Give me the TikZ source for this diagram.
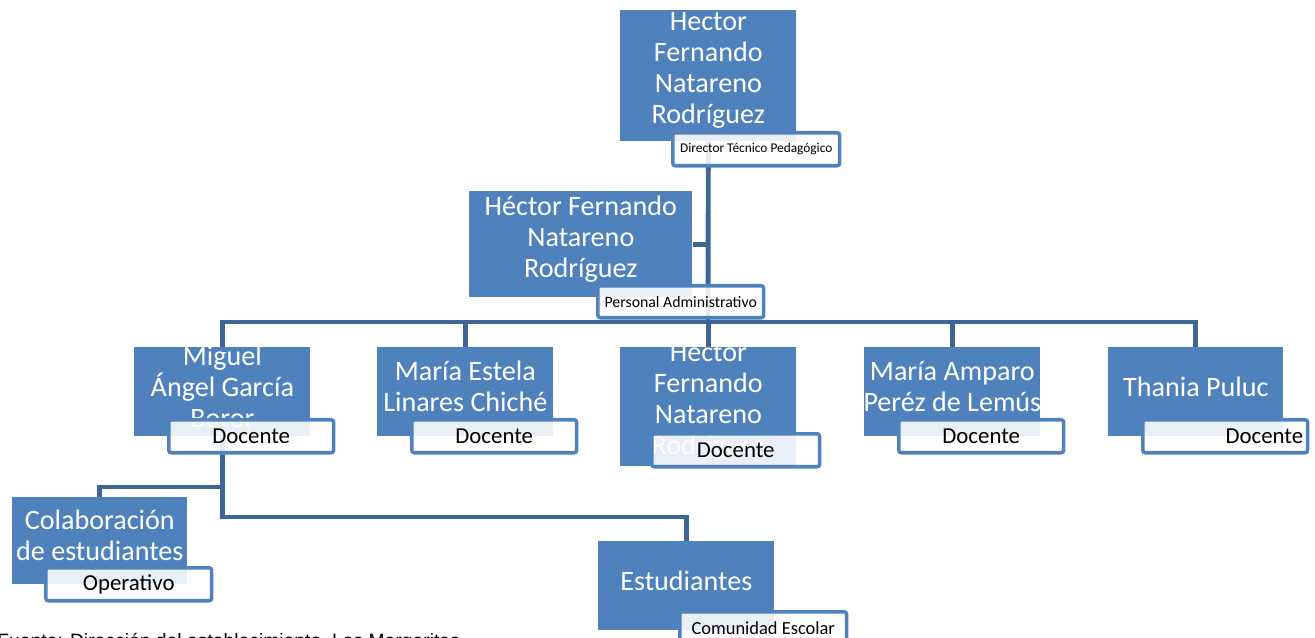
\documentclass[tikz,border=0pt]{standalone}
\usepackage{fontspec}
\setmainfont{Carlito}
\newfontfamily\sourcefont{Liberation Sans}
\usetikzlibrary{calc}

\definecolor{boxblue}{RGB}{79,129,189}
\definecolor{linkblue}{RGB}{62,101,150}

\begin{document}
\begin{tikzpicture}[
    x=0.02cm, y=-0.02cm,
    person/.style={rectangle, fill=boxblue, anchor=north west, inner sep=0pt,
        path picture={\node[nametext] at ([yshift=3pt]path picture bounding box.center) {#1};}},
    nametext/.style={anchor=center, text=white, align=center, font=\fontsize{16}{17.6}\selectfont},
    role/.style={rectangle, draw=boxblue, line width=2pt, rounded corners=1.5pt,
        fill=white, fill opacity=0.88, text opacity=1, anchor=north west,
        inner sep=0pt, minimum height=0.66cm},
    link/.style={draw=linkblue, line width=2.8pt}
]

    \useasboundingbox (0,0) rectangle (1315,638);

    % --- Boxes ---
    \node[person={Hector\\Fernando\\Natareno\\Rodríguez}, minimum width=3.52cm, minimum height=2.62cm] (top) at (620,10) {};
    \node[person={Héctor Fernando\\Natareno\\Rodríguez}, minimum width=4.46cm, minimum height=2.12cm] (admin) at (469,191) {};

    \node[person={Miguel\\Ángel García\\Boror}, minimum width=3.52cm, minimum height=1.78cm] (d1) at (134,347) {};
    \node[person={María Estela\\Linares Chiché}, minimum width=3.52cm, minimum height=1.78cm] (d2) at (377,347) {};
    \node[person={Hector\\Fernando\\Natareno\\Rodríguez}, minimum width=3.52cm, minimum height=2.38cm] (d3) at (620,347) {};
    \node[person={María Amparo\\Peréz de Lemús}, minimum width=3.52cm, minimum height=1.78cm] (d4) at (864,347) {};
    \node[person={Thania Puluc}, minimum width=3.50cm, minimum height=1.78cm] (d5) at (1108,347) {};

    \node[person={Colaboración\\de estudiantes}, minimum width=3.50cm, minimum height=1.74cm] (colab) at (12,497) {};
    \node[person={Estudiantes}, minimum width=3.52cm, minimum height=1.78cm] (est) at (598,541) {};

    % --- Connectors ---
    \coordinate (bus) at (708,322);
    \draw[link] (top.south) -- (bus);
    \draw[link] (admin.east) -- (admin.east -| bus);
    \draw[link] (d1.north) |- (bus) -| (d5.north);
    \foreach \d in {d2,d3,d4}
        \draw[link] (\d.north) -- (\d.north |- bus);

    \draw[link] (d1.south) |- ($(colab.north)+(0,-10)$) -- (colab.north);
    \draw[link] (d1.south) |- ($(est.north)+(0,-24)$) -- (est.north);

    % --- Role labels ---
    \node[role, minimum width=3.34cm, font=\fontsize{7.6}{9}\selectfont] (topRole) at (671,131) {Director Técnico Pedagógico};
    \node[role, minimum width=3.32cm, minimum height=0.64cm, font=\fontsize{9}{11}\selectfont] (adminRole) at (596,284) {Personal Administrativo};

    \node[role, minimum width=3.30cm, font=\fontsize{13}{15}\selectfont] (d1Role) at (167,418) {Docente};
    \node[role, minimum width=3.30cm, font=\fontsize{13}{15}\selectfont] (d2Role) at (410,418) {Docente};
    \node[role, minimum width=3.36cm, font=\fontsize{13}{15}\selectfont] (d3Role) at (650,432) {Docente};
    \node[role, minimum width=3.30cm, font=\fontsize{13}{15}\selectfont] (d4Role) at (897,418) {Docente};
    \node[role, text width=3.12cm, inner xsep=0.09cm, align=right, font=\fontsize{13}{15}\selectfont] (d5Role) at (1141,418) {Docente};

    \node[role, minimum width=3.32cm, font=\fontsize{13}{15}\selectfont] (colabRole) at (44,566) {Operativo};
    \node[role, minimum width=3.34cm, font=\fontsize{10.5}{12}\selectfont] (estRole) at (678,610) {Comunidad Escolar};

    % --- Source line (cut by the page edge) ---
    \node[anchor=base west, inner sep=0pt, font=\sourcefont\fontsize{11}{13}\selectfont] (source) at (-3,647)
        {Fuente: Dirección del establecimiento, Las Margaritas};

\end{tikzpicture}
\end{document}
